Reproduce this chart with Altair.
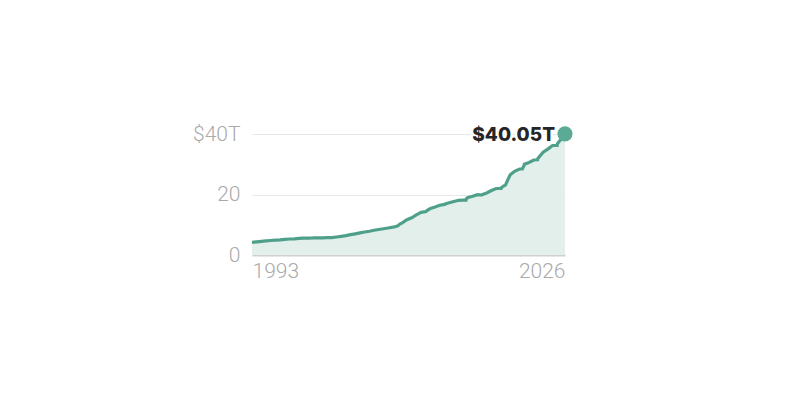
import altair as alt
import pandas as pd

dates = [
    "1993-01-01", "1993-07-01", "1994-01-01", "1994-07-01", "1995-01-01", "1995-07-01",
    "1996-01-01", "1996-04-01", "1996-07-01", "1997-01-01", "1997-07-01", "1998-01-01",
    "1998-07-01", "1999-01-01", "1999-07-01", "2000-01-01", "2000-07-01", "2001-01-01",
    "2001-07-01", "2002-01-01", "2002-07-01", "2003-01-01", "2003-07-01", "2004-01-01",
    "2004-07-01", "2005-01-01", "2005-07-01", "2006-01-01", "2006-07-01", "2007-01-01",
    "2007-07-01", "2008-01-01", "2008-07-01", "2008-10-15", "2009-01-01", "2009-07-01",
    "2010-01-01", "2010-07-01", "2011-01-01", "2011-07-15", "2011-09-01", "2012-01-01",
    "2012-07-01", "2013-01-01", "2013-07-01", "2013-10-20", "2014-01-01", "2014-07-01",
    "2015-01-01", "2015-07-01", "2015-10-15", "2015-11-05", "2016-01-01", "2016-07-01",
    "2017-01-01", "2017-07-01", "2017-09-10", "2018-01-01", "2018-07-01", "2019-01-01",
    "2019-07-15", "2019-08-05", "2020-01-01", "2020-04-01", "2020-07-01", "2021-01-01",
    "2021-07-01", "2021-10-15", "2021-12-20", "2022-01-01", "2022-07-01", "2023-01-01",
    "2023-05-31", "2023-06-10", "2024-01-01", "2024-07-01", "2025-01-01", "2025-07-01",
    "2025-07-10", "2025-10-01", "2026-01-01", "2026-03-01", "2026-05-01",
]
debt_trillions = [
    4.17, 4.35, 4.53, 4.65, 4.80, 4.95,
    4.99, 5.10, 5.16, 5.29, 5.36, 5.49,
    5.55, 5.61, 5.64, 5.71, 5.68, 5.73,
    5.72, 5.94, 6.16, 6.40, 6.73, 7.00,
    7.30, 7.60, 7.84, 8.17, 8.42, 8.68,
    8.93, 9.19, 9.59, 10.30, 10.63, 11.67,
    12.31, 13.24, 14.09, 14.34, 14.79, 15.36,
    15.86, 16.43, 16.74, 17.10, 17.29, 17.68,
    18.08, 18.15, 18.15, 18.70, 19.00, 19.43,
    19.95, 19.84, 20.20, 20.49, 21.30, 21.98,
    22.02, 22.40, 23.20, 24.90, 26.50, 27.75,
    28.43, 28.43, 29.60, 30.00, 30.60, 31.40,
    31.46, 31.90, 34.00, 35.00, 36.20, 36.21,
    36.80, 37.70, 38.50, 39.30, 40.05,
]

end_label = [f"${debt_trillions[-1]:.2f}T"]

df = pd.DataFrame({"date": dates, "debt": debt_trillions})
last = pd.DataFrame({"date": [dates[-1]], "debt": [debt_trillions[-1]], "label": end_label})

LINE = "#4fa08a"
FILL = "#e2efeb"
AXIS_FONT = "Roboto"
LABEL_FONT = "Inter"

x = alt.X(
    "date:T",
    scale=alt.Scale(domain=[dates[0], dates[-1]], nice=False),
    axis=alt.Axis(
        values=[dates[0], dates[-1]],
        labelExpr="timeFormat(datum.value, '%Y')",
        labelFlush=True,
        grid=False,
        ticks=False,
        domain=True,
        domainColor="#cfcfcf",
        domainWidth=2,
        labelPadding=5,
        labelFontSize=21,
        labelColor="#aaaaaa",
        labelFont=AXIS_FONT,
        labelFontWeight=300,
        title=None,
    ),
)
y = alt.Y(
    "debt:Q",
    scale=alt.Scale(domain=[0, 40], nice=False),
    axis=alt.Axis(
        values=[0, 20, 40],
        labelExpr="datum.value == 40 ? '$40T' : datum.label",
        grid=True,
        gridColor="#e8e8e8",
        gridWidth=1,
        ticks=False,
        domain=False,
        labelPadding=12,
        labelFontSize=21,
        labelColor="#aaaaaa",
        labelFont=AXIS_FONT,
        labelFontWeight=300,
        title=None,
    ),
)

base_area = alt.Chart(df).mark_area(color=FILL, opacity=1).encode(x=x, y=y)
line = alt.Chart(df).mark_line(color=LINE, strokeWidth=3.2).encode(x=x, y=y)
dot = alt.Chart(last).mark_circle(color="#5aaa95", size=230, opacity=1).encode(x=x, y=y)
halo = alt.Chart(last).mark_text(
    align="right", baseline="middle", dx=-10, dy=1, fontSize=19, fontWeight=800,
    font=LABEL_FONT, color="white", stroke="white", strokeWidth=4
).encode(x=x, y=y, text="label:N")
text = alt.Chart(last).mark_text(
    align="right", baseline="middle", dx=-10, dy=1, fontSize=19, fontWeight=800,
    font=LABEL_FONT, color="#262626"
).encode(x=x, y=y, text="label:N")

chart = (
    alt.layer(base_area, line, halo, dot, text)
    .properties(
        width=313,
        height=121,
        autosize=alt.AutoSizeParams(type="none"),
        padding={"left": 244, "top": 126, "right": 40, "bottom": 60},
    )
    .configure(background="white")
    .configure_view(strokeWidth=0, stroke="transparent")
    .configure_axisX(grid=False)
)

chart.save("out.html", embed_options={"renderer": "svg", "actions": False})
